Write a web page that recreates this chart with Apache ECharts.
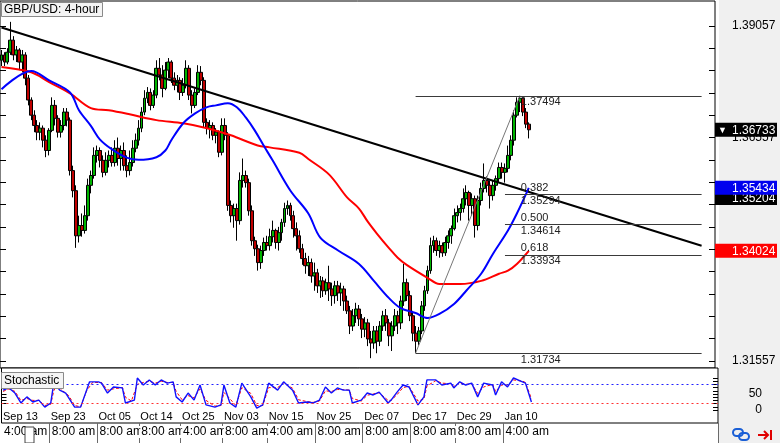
<!DOCTYPE html>
<html><head><meta charset="utf-8">
<script src="https://cdn.jsdelivr.net/npm/echarts@6/dist/echarts.min.js"></script>
<style>html,body{margin:0;padding:0;background:#fff}#c{width:780px;height:443px}</style>
</head><body><div id="c"></div>
<script>
// ---------- data ----------
const opens = [
1.3829,1.3841,1.3825,1.3847,1.3874,1.3841,1.3852,1.3825,1.3841,1.3789,
1.3740,1.3706,1.3683,1.3668,1.3677,1.3650,1.3627,1.3672,1.3728,1.3699,
1.3668,1.3683,1.3713,1.3695,1.3582,1.3537,1.3436,1.3459,1.3448,1.3481,
1.3549,1.3571,1.3616,1.3627,1.3605,1.3578,1.3605,1.3616,1.3600,1.3632,
1.3609,1.3627,1.3593,1.3582,1.3600,1.3632,1.3650,1.3677,1.3713,1.3744,
1.3757,1.3728,1.3751,1.3811,1.3796,1.3766,1.3807,1.3825,1.3789,1.3773,
1.3784,1.3757,1.3773,1.3811,1.3751,1.3728,1.3757,1.3802,1.3784,1.3690,
1.3677,1.3683,1.3661,1.3668,1.3623,1.3683,1.3661,1.3504,1.3481,1.3497,
1.3470,1.3560,1.3571,1.3555,1.3492,1.3425,1.3407,1.3376,1.3403,1.3421,
1.3414,1.3434,1.3448,1.3421,1.3443,1.3466,1.3497,1.3504,1.3481,1.3452,
1.3436,1.3407,1.3385,1.3369,1.3376,1.3346,1.3353,1.3324,1.3335,1.3313,
1.3331,1.3317,1.3302,1.3324,1.3308,1.3317,1.3290,1.3268,1.3234,1.3257,
1.3272,1.3250,1.3227,1.3241,1.3205,1.3196,1.3223,1.3200,1.3234,1.3257,
1.3241,1.3212,1.3234,1.3257,1.3241,1.3290,1.3331,1.3302,1.3257,1.3218,
1.3200,1.3223,1.3279,1.3313,1.3358,1.3414,1.3425,1.3403,1.3414,1.3398,
1.3421,1.3436,1.3452,1.3481,1.3488,1.3497,1.3519,1.3533,1.3504,1.3519,
1.3459,1.3515,1.3542,1.3560,1.3549,1.3526,1.3549,1.3564,1.3589,1.3578,
1.3587,1.3616,1.3650,1.3706,1.3735,1.3744,1.3713,1.3686];
const closes = [
1.3841,1.3825,1.3847,1.3874,1.3841,1.3852,1.3825,1.3841,1.3789,1.3740,
1.3706,1.3683,1.3668,1.3677,1.3650,1.3627,1.3672,1.3728,1.3699,1.3668,
1.3683,1.3713,1.3695,1.3582,1.3537,1.3436,1.3459,1.3448,1.3481,1.3549,
1.3571,1.3616,1.3627,1.3605,1.3578,1.3605,1.3616,1.3600,1.3632,1.3609,
1.3627,1.3593,1.3582,1.3600,1.3632,1.3650,1.3677,1.3713,1.3744,1.3757,
1.3728,1.3751,1.3811,1.3796,1.3766,1.3807,1.3825,1.3789,1.3773,1.3784,
1.3757,1.3773,1.3811,1.3751,1.3728,1.3757,1.3802,1.3784,1.3690,1.3677,
1.3683,1.3661,1.3668,1.3623,1.3683,1.3661,1.3504,1.3481,1.3497,1.3470,
1.3560,1.3571,1.3555,1.3492,1.3425,1.3407,1.3376,1.3403,1.3421,1.3414,
1.3434,1.3448,1.3421,1.3443,1.3466,1.3497,1.3504,1.3481,1.3452,1.3436,
1.3407,1.3385,1.3369,1.3376,1.3346,1.3353,1.3324,1.3335,1.3313,1.3331,
1.3317,1.3302,1.3324,1.3308,1.3317,1.3290,1.3268,1.3234,1.3257,1.3272,
1.3250,1.3227,1.3241,1.3205,1.3196,1.3223,1.3200,1.3234,1.3257,1.3241,
1.3212,1.3234,1.3257,1.3241,1.3290,1.3331,1.3302,1.3257,1.3218,1.3200,
1.3223,1.3279,1.3313,1.3358,1.3414,1.3425,1.3403,1.3414,1.3398,1.3421,
1.3436,1.3452,1.3481,1.3488,1.3497,1.3519,1.3533,1.3504,1.3519,1.3459,
1.3515,1.3542,1.3560,1.3549,1.3526,1.3549,1.3564,1.3589,1.3578,1.3587,
1.3616,1.3650,1.3706,1.3735,1.3744,1.3713,1.3686,1.36733];
const lows = [
1.3816,1.3816,1.3820,1.3841,1.3829,1.3825,1.3807,1.3802,1.3773,1.3728,
1.3695,1.3668,1.3650,1.3650,1.3634,1.3612,1.3616,1.3668,1.3683,1.3656,
1.3656,1.3672,1.3681,1.3571,1.3522,1.3409,1.3421,1.3434,1.3441,1.3470,
1.3531,1.3564,1.3600,1.3589,1.3567,1.3571,1.3589,1.3591,1.3591,1.3593,
1.3582,1.3582,1.3567,1.3571,1.3591,1.3623,1.3638,1.3668,1.3706,1.3733,
1.3717,1.3722,1.3744,1.3784,1.3746,1.3762,1.3789,1.3778,1.3762,1.3757,
1.3740,1.3749,1.3766,1.3740,1.3710,1.3722,1.3751,1.3773,1.3679,1.3663,
1.3654,1.3650,1.3643,1.3612,1.3616,1.3650,1.3492,1.3466,1.3454,1.3425,
1.3461,1.3544,1.3544,1.3481,1.3414,1.3391,1.3358,1.3362,1.3391,1.3403,
1.3403,1.3421,1.3407,1.3403,1.3425,1.3456,1.3483,1.3470,1.3432,1.3403,
1.3398,1.3371,1.3351,1.3346,1.3331,1.3313,1.3308,1.3297,1.3299,1.3304,
1.3290,1.3279,1.3284,1.3290,1.3279,1.3268,1.3261,1.3216,1.3223,1.3241,
1.3234,1.3207,1.3209,1.3189,1.3162,1.3183,1.3173,1.3189,1.3223,1.3223,
1.3189,1.3178,1.3223,1.3216,1.3227,1.3279,1.3290,1.3245,1.3200,1.31734,
1.3191,1.3216,1.3268,1.3306,1.3351,1.3398,1.3391,1.3387,1.3389,1.3391,
1.3407,1.3418,1.3448,1.3466,1.3470,1.3488,1.3504,1.3470,1.3481,1.3432,
1.3448,1.3504,1.3533,1.3533,1.3497,1.3515,1.3537,1.3555,1.3564,1.3555,
1.3578,1.3605,1.3638,1.3701,1.3713,1.3704,1.3677,1.3654];
const highs = [
1.3852,1.3847,1.3856,1.3915,1.3883,1.3861,1.3856,1.3852,1.3847,1.3796,
1.3746,1.3717,1.3695,1.3690,1.3683,1.3661,1.3677,1.3746,1.3740,1.3706,
1.3695,1.3722,1.3722,1.3701,1.3593,1.3549,1.3481,1.3486,1.3504,1.3564,
1.3582,1.3634,1.3638,1.3634,1.3616,1.3623,1.3627,1.3634,1.3650,1.3656,
1.3638,1.3645,1.3616,1.3627,1.3650,1.3665,1.3695,1.3724,1.3762,1.3769,
1.3766,1.3762,1.3829,1.3834,1.3818,1.3825,1.3834,1.3829,1.3802,1.3796,
1.3791,1.3789,1.3829,1.3818,1.3762,1.3766,1.3818,1.3816,1.3791,1.3699,
1.3695,1.3690,1.3677,1.3672,1.3699,1.3699,1.3668,1.3515,1.3508,1.3508,
1.3578,1.3609,1.3582,1.3564,1.3504,1.3434,1.3416,1.3414,1.3432,1.3436,
1.3452,1.3470,1.3452,1.3456,1.3474,1.3510,1.3515,1.3510,1.3492,1.3466,
1.3448,1.3418,1.3398,1.3391,1.3385,1.3376,1.3362,1.3346,1.3344,1.3340,
1.3369,1.3331,1.3335,1.3335,1.3331,1.3324,1.3302,1.3279,1.3272,1.3286,
1.3281,1.3261,1.3254,1.3250,1.3223,1.3234,1.3234,1.3245,1.3268,1.3272,
1.3250,1.3245,1.3272,1.3268,1.3302,1.3373,1.3340,1.3313,1.3268,1.3234,
1.3232,1.3290,1.3324,1.3369,1.3432,1.3436,1.3432,1.3425,1.3421,1.3434,
1.3448,1.3459,1.3497,1.3504,1.3508,1.3542,1.3549,1.3537,1.3531,1.3526,
1.3526,1.3555,1.3598,1.3569,1.3560,1.3560,1.3571,1.3600,1.3600,1.3598,
1.3638,1.3661,1.3717,1.3746,1.37494,1.3746,1.3722,1.3690];

// moving averages: [candle index, value]
const maFast = [[0,1.3764],[10,1.3805],[16,1.3784],[23,1.3757],[26,1.3717],[30,1.3682],[33,1.3652],[37,1.3630],[42,1.3611],[46,1.3606],[52,1.3612],[55,1.3627],[57,1.3650],[61,1.3688],[65,1.3710],[69,1.3724],[72,1.3728],[76,1.3733],[79,1.3724],[82,1.3701],[85,1.3672],[88,1.3638],[91,1.3605],[97,1.3537],[103,1.3486],[107,1.3432],[113,1.3403],[120,1.3373],[125,1.3335],[130,1.3297],[134,1.3274],[139,1.3263],[143,1.3252],[147,1.3261],[152,1.3284],[156,1.3313],[161,1.3351],[165,1.3396],[170,1.3448],[173,1.3486],[177,1.35434]];
const maSlow = [[0,1.3814],[10,1.3802],[16,1.3780],[23,1.3755],[30,1.3722],[36,1.3717],[43,1.3708],[52,1.3695],[61,1.3688],[69,1.3677],[77,1.3661],[86,1.3638],[90,1.3634],[100,1.3622],[103,1.3608],[110,1.3573],[116,1.3522],[120,1.3497],[123,1.3467],[126,1.3441],[130,1.3409],[133,1.3387],[136,1.3371],[143,1.3342],[147,1.3328],[154,1.3328],[161,1.3335],[167,1.3351],[170,1.3358],[173,1.3373],[177,1.34024]];

// stochastic %K (blue) and %D (red)
const stochK = [[0,62],[2,69],[4,53],[6,22],[8,41],[10,25],[12,31],[14,9],[16,22],[17,84],[19,62],[21,53],[24,9],[26,9],[29,88],[32,88],[33,84],[35,53],[37,72],[40,69],[41,22],[44,31],[45,100],[47,78],[49,94],[51,78],[53,94],[55,84],[57,88],[58,41],[60,25],[62,53],[64,31],[66,78],[68,16],[71,9],[73,16],[74,78],[76,22],[78,9],[80,84],[83,41],[85,6],[87,16],[89,84],[92,62],[94,88],[97,62],[99,22],[102,25],[104,22],[106,31],[108,72],[110,53],[112,69],[114,62],[116,62],[117,22],[120,31],[122,53],[124,47],[126,56],[129,22],[130,31],[132,56],[134,78],[136,72],[139,16],[141,41],[142,94],[145,94],[147,78],[150,84],[151,69],[153,88],[155,78],[157,84],[159,41],[161,84],[164,78],[165,47],[167,88],[169,72],[171,100],[174,88],[175,84],[177,25]];
const stochD = [[0,58],[2,66],[4,58],[6,30],[8,36],[10,30],[12,30],[14,14],[16,18],[17,60],[18,78],[20,60],[22,45],[24,14],[26,10],[28,60],[30,86],[33,86],[35,62],[37,66],[40,70],[41,40],[43,28],[45,80],[47,86],[49,90],[51,84],[53,90],[55,86],[57,86],[58,58],[60,32],[62,45],[64,38],[66,66],[68,30],[71,12],[73,14],[74,55],[76,35],[78,14],[80,70],[83,52],[85,14],[87,14],[89,70],[92,70],[94,84],[97,68],[99,32],[102,26],[104,24],[106,28],[108,60],[110,58],[112,64],[114,64],[116,62],[117,36],[120,28],[122,46],[124,50],[126,54],[129,30],[130,30],[132,48],[134,70],[136,74],[139,28],[141,34],[142,75],[145,92],[147,84],[150,82],[151,74],[153,84],[155,80],[157,82],[159,52],[161,72],[164,80],[165,58],[167,78],[169,78],[171,94],[174,90],[175,86],[177,35]];

// drawn objects
const trendLine = [[0,1.39023],[235,1.34138]];
const fibLowIdx = 139, fibHighIdx = 174, fibEndIdx = 235, fibInnerStartIdx = 169;
const fibLow = 1.31734, fibHigh = 1.37494;
const fibRatios = ['0.382','0.500','0.618'];
const fibPrices = [1.35294,1.34614,1.33934];
const otherMarker = 1.35204;

// axes
const slotCount = 240;
const dateTickIdx = [0,16,32,46,60,74,89,105,121,137,152,168];
const dateLabels = ['Sep 13','Sep 23','Oct 05','Oct 14','Oct 25','Nov 03','Nov 15','Nov 25','Dec 07','Dec 17','Dec 29','Jan 10'];
const timeLabels = ['4:00 am','8:00 am','8:00 am','8:00 am','4:00 am','8:00 am','4:00 am','8:00 am','8:00 am','8:00 am','8:00 am','4:00 am'];
const priceTicks = [1.31557,1.32057,1.32557,1.33057,1.33557,1.34057,1.34557,1.35057,1.35557,1.36057,1.36557,1.37057,1.37557,1.38057,1.38557,1.39057];
const priceLabelVals = [1.31557,1.34057,1.36557,1.39057];
const stochTicks = [0,10,20,30,40,50,60,70,80,90,100];
const stochLabelVals = [0,50];
const stochLevels = [80,20];

// ---------- chart ----------
const FONT = 'Liberation Sans';
const HIDDEN = {color: 'rgba(0,0,0,0)', width: 1, opacity: 1};
const PMIN = 1.31400, PMAX = 1.39617;
const slots = Array.from({length: slotCount}, (_, i) => String(i));
const candles = opens.map((o, i) => [o, closes[i], lows[i], highs[i]]);
const chart = echarts.init(document.getElementById('c'), null, {renderer: 'canvas'});

// current-value boxes on the price scale, drawn as extra axes at the exact values
function markerAxis(value, bg, arrow) {
  const txt = value.toFixed(5);
  return {
    gridIndex: 0, type: 'value', position: 'right', min: PMIN, max: PMAX,
    axisLine: {show: false}, splitLine: {show: false}, axisTick: {show: false},
    axisLabel: {
      customValues: [value], margin: 0,
      formatter: () => arrow ? '{a|▼}{b|' + txt + '}' : '{b|' + txt + '}',
      backgroundColor: bg, color: '#fff',
      padding: arrow ? [1, 0, 0, 3] : [1, 0, 0, 17],
      width: arrow ? 59 : 45,
      rich: {
        a: {color: '#fff', fontSize: 9, width: 14, fontFamily: FONT, lineHeight: 13},
        b: {color: '#fff', fontSize: 12, fontFamily: FONT, lineHeight: 13}
      }
    }
  };
}

const fibMark = [];
const lvlStyle = {color: '#3a3a3a', width: 1, type: 'solid'};
const fibLbl = (pos, text, dist) => ({show: true, position: pos, distance: dist, formatter: text,
  color: '#222', opacity: 1, fontSize: 11, fontFamily: FONT});
fibMark.push([{coord: [fibLowIdx, fibHigh], lineStyle: lvlStyle, label: {show: false}}, {coord: [fibEndIdx, fibHigh]}]);
fibMark.push([{coord: [fibLowIdx, fibLow], lineStyle: lvlStyle, label: {show: false}}, {coord: [fibEndIdx, fibLow]}]);
fibPrices.forEach((p, k) => {
  fibMark.push([{coord: [fibInnerStartIdx, p], lineStyle: lvlStyle, label: {show: false}}, {coord: [fibEndIdx, p]}]);
  fibMark.push([{coord: [fibHighIdx, p], lineStyle: HIDDEN, label: fibLbl('insideStartTop', fibRatios[k], 1)}, {coord: [fibEndIdx, p]}]);
  fibMark.push([{coord: [fibHighIdx, p], lineStyle: HIDDEN, label: fibLbl('insideStartBottom', p.toFixed(5), 1)}, {coord: [fibEndIdx, p]}]);
});
[fibHigh, fibLow].forEach(p => {
  fibMark.push([{coord: [fibHighIdx, p], lineStyle: HIDDEN, label: fibLbl('insideStartBottom', p.toFixed(5), 1)}, {coord: [fibEndIdx, p]}]);
});

const option = {
  animation: false,
  backgroundColor: '#ffffff',
  textStyle: {fontFamily: FONT},
  title: [
    {text: 'GBP/USD: 4-hour', left: 1, top: 2, padding: [1, 3, 0, 3], backgroundColor: '#f4f4f4',
     borderColor: '#8a8a8a', borderWidth: 1,
     textStyle: {fontSize: 12, fontWeight: 'normal', color: '#000', fontFamily: FONT, lineHeight: 14}},
    {text: 'Stochastic', left: 1, top: 372, padding: [2, 4, 1, 3], backgroundColor: '#f4f4f4',
     borderColor: '#8a8a8a', borderWidth: 1,
     textStyle: {fontSize: 12, fontWeight: 'normal', color: '#000', fontFamily: FONT, lineHeight: 14}}
  ],
  grid: [
    {left: 0, top: 1, width: 718, height: 367, show: true, borderColor: '#000', borderWidth: 1, backgroundColor: '#fff'},
    {left: 0, top: 368, width: 718, height: 55, show: true, borderColor: '#000', borderWidth: 1, backgroundColor: '#fff'},
    {left: 0, top: 423, width: 718, height: 20, show: false}
  ],
  xAxis: [
    {gridIndex: 0, type: 'category', data: slots, boundaryGap: true, show: false},
    {gridIndex: 1, type: 'category', data: slots, boundaryGap: true,
     axisLine: {show: false}, axisTick: {show: false}, splitLine: {show: false},
     axisLabel: {inside: true, margin: 1, align: 'left', fontSize: 11, color: '#000', fontFamily: FONT,
       interval: (i) => dateTickIdx.includes(i),
       formatter: (v) => { const k = dateTickIdx.indexOf(Number(v)); return k >= 0 ? dateLabels[k] : ''; }}},
    {gridIndex: 2, type: 'category', data: slots, boundaryGap: true, position: 'top',
     axisLine: {show: false}, axisTick: {show: false},
     splitLine: {show: true, interval: (i) => dateTickIdx.includes(i) && i > 0, lineStyle: {color: '#6a6a6a', width: 1}},
     axisLabel: {inside: true, margin: 3, align: 'left', fontSize: 12, color: '#000', fontFamily: FONT,
       backgroundColor: '#fff', padding: [0, 1, 0, 1],
       interval: (i) => dateTickIdx.includes(i),
       formatter: (v) => { const k = dateTickIdx.indexOf(Number(v)); return k >= 0 ? timeLabels[k] : ''; }}}
  ],
  yAxis: [
    {gridIndex: 0, type: 'value', position: 'right', min: PMIN, max: PMAX,
     axisLine: {show: false}, splitLine: {show: false},
     axisTick: {show: true, inside: true, length: 6, customValues: priceTicks, lineStyle: {color: '#000'}},
     axisLabel: {customValues: priceLabelVals, formatter: (v) => v.toFixed(5), margin: 17, fontSize: 12, color: '#000', fontFamily: FONT}},
    {gridIndex: 0, type: 'value', position: 'left', min: PMIN, max: PMAX,
     axisLine: {show: false}, splitLine: {show: false}, axisLabel: {show: false},
     axisTick: {show: true, inside: true, length: 6, customValues: priceTicks, lineStyle: {color: '#000'}}},
    {gridIndex: 1, type: 'value', position: 'right', min: -40.625, max: 131.25,
     axisLine: {show: false}, splitLine: {show: false},
     axisTick: {show: true, inside: true, length: 5, customValues: stochTicks, lineStyle: {color: '#000'}},
     axisLabel: {customValues: stochLabelVals, formatter: (v) => String(v), margin: 44, align: 'right', fontSize: 12, color: '#000', fontFamily: FONT}},
    {gridIndex: 1, type: 'value', position: 'left', min: -40.625, max: 131.25,
     axisLine: {show: false}, splitLine: {show: false}, axisLabel: {show: false},
     axisTick: {show: true, inside: true, length: 5, customValues: [20, 30, 40, 50], lineStyle: {color: '#000'}}},
    {gridIndex: 2, type: 'value', show: false},
    markerAxis(otherMarker, '#000', false),
    markerAxis(maFast[maFast.length - 1][1], '#0000ee', false),
    markerAxis(maSlow[maSlow.length - 1][1], '#ff0000', false),
    markerAxis(closes[closes.length - 1], '#000', true)
  ],
  series: [
    {type: 'candlestick', xAxisIndex: 0, yAxisIndex: 0, data: candles, barWidth: 3.4,
     itemStyle: {color: '#00b400', color0: '#c00000', borderColor: '#000', borderColor0: '#000', borderWidth: 1}},
    {type: 'line', xAxisIndex: 0, yAxisIndex: 0, data: trendLine, symbol: 'none',
     lineStyle: {color: '#000', width: 2}},
    {type: 'line', xAxisIndex: 0, yAxisIndex: 0, data: maSlow, symbol: 'none', smooth: 0.35,
     lineStyle: {color: '#ff0000', width: 2}},
    {type: 'line', xAxisIndex: 0, yAxisIndex: 0, data: maFast, symbol: 'none', smooth: 0.35,
     lineStyle: {color: '#0000ff', width: 2}},
    {type: 'line', xAxisIndex: 0, yAxisIndex: 0, data: [[fibLowIdx, fibLow], [fibHighIdx, fibHigh]], symbol: 'none',
     lineStyle: {color: '#777', width: 1},
     markLine: {silent: true, symbol: ['none', 'none'], animation: false, data: fibMark}},
    {type: 'line', xAxisIndex: 1, yAxisIndex: 2, data: stochD, symbol: 'none',
     lineStyle: {color: '#ff0000', width: 1, type: [3, 2]},
     markLine: {silent: true, symbol: ['none', 'none'], animation: false, label: {show: false},
       data: [{yAxis: stochLevels[1], lineStyle: {color: '#ff3030', width: 1, type: [2, 3]}}]}},
    {type: 'line', xAxisIndex: 1, yAxisIndex: 2, data: stochK, symbol: 'none',
     lineStyle: {color: '#1010ff', width: 1.4},
     markLine: {silent: true, symbol: ['none', 'none'], animation: false, label: {show: false},
       data: [{yAxis: stochLevels[0], lineStyle: {color: '#2020ff', width: 1, type: [2, 3]}}]}}
  ],
  graphic: [
    {type: 'rect', z: -1, shape: {x: 719, y: 0, width: 61, height: 443}, style: {fill: '#f0f0f0'}},
    {type: 'rect', z: 10, shape: {x: 25, y: 427, width: 9, height: 16}, style: {fill: '#fff', stroke: '#444', lineWidth: 1}},
    {type: 'rect', z: 10, shape: {x: 733, y: 429, width: 10, height: 7, r: 3.5}, style: {fill: 'none', stroke: '#1a5fd6', lineWidth: 2}},
    {type: 'rect', z: 10, shape: {x: 739, y: 433, width: 10, height: 7, r: 3.5}, style: {fill: 'none', stroke: '#1a5fd6', lineWidth: 2}},
    {type: 'polyline', z: 10, shape: {points: [[758, 435], [768, 435]]}, style: {stroke: '#e00000', lineWidth: 2, fill: 'none'}},
    {type: 'polyline', z: 10, shape: {points: [[764, 431], [768, 435], [764, 439]]}, style: {stroke: '#e00000', lineWidth: 2, fill: 'none'}},
    {type: 'polyline', z: 10, shape: {points: [[771, 430], [771, 440]]}, style: {stroke: '#e00000', lineWidth: 2, fill: 'none'}}
  ]
};
chart.setOption(option);
</script>
</body></html>
